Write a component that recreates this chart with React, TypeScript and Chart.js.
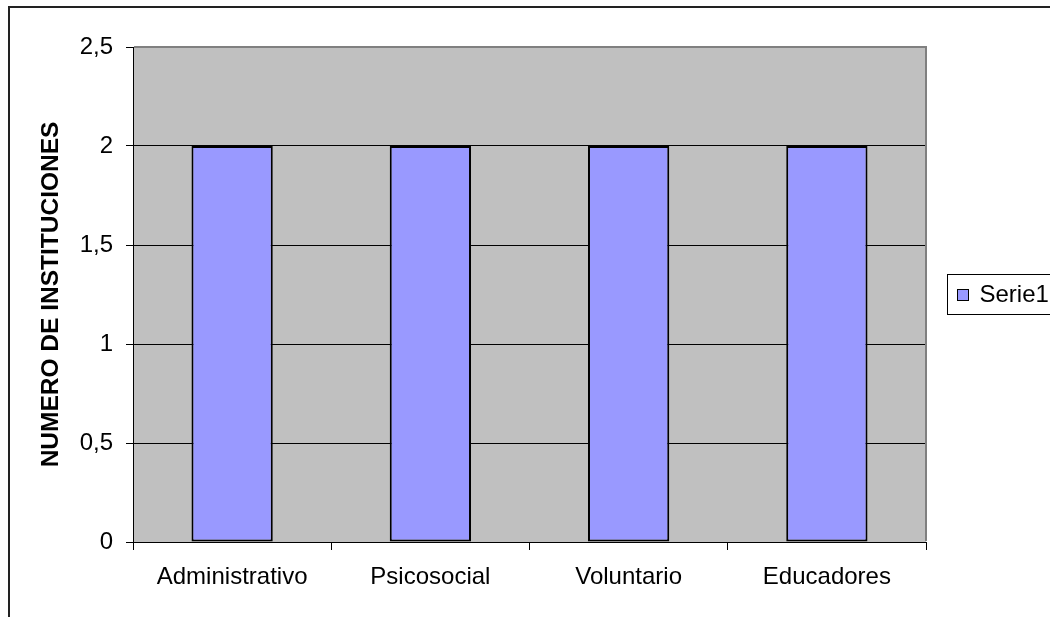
import React, { useEffect, useRef } from 'react';
import { Chart, registerables } from 'chart.js';

Chart.register(...registerables);

const categories = ['Administrativo', 'Psicosocial', 'Voluntario', 'Educadores'];
const serie1Values = [2, 2, 2, 2];
const seriesName = 'Serie1';
const yTickValues = [0, 0.5, 1, 1.5, 2, 2.5];
const yTickLabels = ['0', '0,5', '1', '1,5', '2', '2,5'];
const yAxisTitle = 'NUMERO DE INSTITUCIONES';

const FONT = '"Liberation Sans", Arial, sans-serif';
const BAR_COLOR = '#9999FF';
const PLOT_BG = '#C0C0C0';
const W = 1050;
const H = 617;

const decorPlugin = {
  id: 'decor',
  beforeDraw(chart: any) {
    const { ctx, chartArea: a } = chart;
    ctx.save();
    ctx.fillStyle = '#ffffff';
    ctx.fillRect(0, 0, chart.width, chart.height);
    ctx.fillStyle = PLOT_BG;
    ctx.fillRect(a.left, a.top, a.right - a.left, a.bottom - a.top);
    ctx.strokeStyle = '#222222';
    ctx.lineWidth = 2;
    ctx.strokeRect(9, 7, chart.width + 40, chart.height + 40);
    ctx.restore();
  },
  afterDraw(chart: any) {
    const { ctx, chartArea: a } = chart;
    ctx.save();
    // plot area border (top & right)
    ctx.strokeStyle = '#808080';
    ctx.lineWidth = 2;
    ctx.beginPath();
    ctx.moveTo(a.left + 1, a.top);
    ctx.lineTo(a.right, a.top);
    ctx.lineTo(a.right, a.bottom - 1);
    ctx.stroke();

    // legend
    const ds = chart.data.datasets[0];
    const lx = Math.round(a.right + 21) + 0.5;
    const cy = Math.round((a.top + a.bottom) / 2) - 1;
    const ly = cy - 20 + 0.5;
    ctx.fillStyle = '#ffffff';
    ctx.fillRect(lx, ly, 200, 40);
    ctx.strokeStyle = '#000000';
    ctx.lineWidth = 1;
    ctx.strokeRect(lx, ly, 200, 40);
    ctx.fillStyle = ds.backgroundColor;
    ctx.fillRect(lx + 10, cy - 4.5, 11, 11);
    ctx.strokeStyle = '#000000';
    ctx.strokeRect(lx + 10, cy - 4.5, 11, 11);
    ctx.fillStyle = '#000000';
    ctx.font = `24px ${FONT}`;
    ctx.textBaseline = 'middle';
    ctx.textAlign = 'left';
    ctx.fillText(ds.label, lx + 32, cy + 1);
    ctx.restore();
  },
};

export default function App() {
  const ref = useRef<HTMLCanvasElement | null>(null);

  useEffect(() => {
    if (!ref.current) return;
    const chart = new Chart(ref.current, {
      type: 'bar',
      data: {
        labels: categories,
        datasets: [
          {
            label: seriesName,
            data: serie1Values,
            backgroundColor: BAR_COLOR,
            borderColor: '#000000',
            borderWidth: 2,
            borderSkipped: false,
            barPercentage: 0.41,
            categoryPercentage: 1,
          },
        ],
      },
      options: {
        animation: false,
        responsive: false,
        devicePixelRatio: 1,
        layout: { padding: { left: 0, top: 47, right: 124, bottom: 0 } },
        plugins: {
          legend: { display: false },
          tooltip: { enabled: false },
        },
        scales: {
          x: {
            grid: {
              display: true,
              drawOnChartArea: false,
              drawTicks: true,
              tickLength: 8,
              tickColor: '#000000',
              offset: true,
            },
            border: { display: true, color: '#000000', width: 1 },
            ticks: {
              color: '#000000',
              font: { family: FONT, size: 24 },
              padding: 13,
              maxRotation: 0,
              autoSkip: false,
            },
            afterFit(scale: any) {
              scale.height = 75;
            },
          },
          y: {
            min: 0,
            max: 2.5,
            ticks: {
              stepSize: 0.5,
              color: '#000000',
              font: { family: FONT, size: 24 },
              padding: 13,
              callback: (v: any) => {
                const i = yTickValues.indexOf(Number(v));
                return i >= 0 ? yTickLabels[i] : String(v);
              },
            },
            grid: {
              color: (c: any) => (c.tick && c.tick.value === 2.5 ? '#808080' : '#000000'),
              tickColor: '#000000',
              tickLength: 7,
              lineWidth: 1,
            },
            border: { display: true, color: '#000000', width: 1 },
            title: {
              display: true,
              text: yAxisTitle,
              color: '#000000',
              font: { family: FONT, size: 24.5, weight: 'bold' },
              padding: { top: 36.6, bottom: 0 },
            },
            afterFit(scale: any) {
              scale.width = 133;
            },
          },
        },
      },
      plugins: [decorPlugin],
    } as any);
    return () => chart.destroy();
  }, []);

  return (
    <div style={{ position: 'absolute', left: 0, top: 0, width: W, height: H }}>
      <canvas ref={ref} width={W} height={H} style={{ display: 'block', width: W, height: H }} />
    </div>
  );
}
